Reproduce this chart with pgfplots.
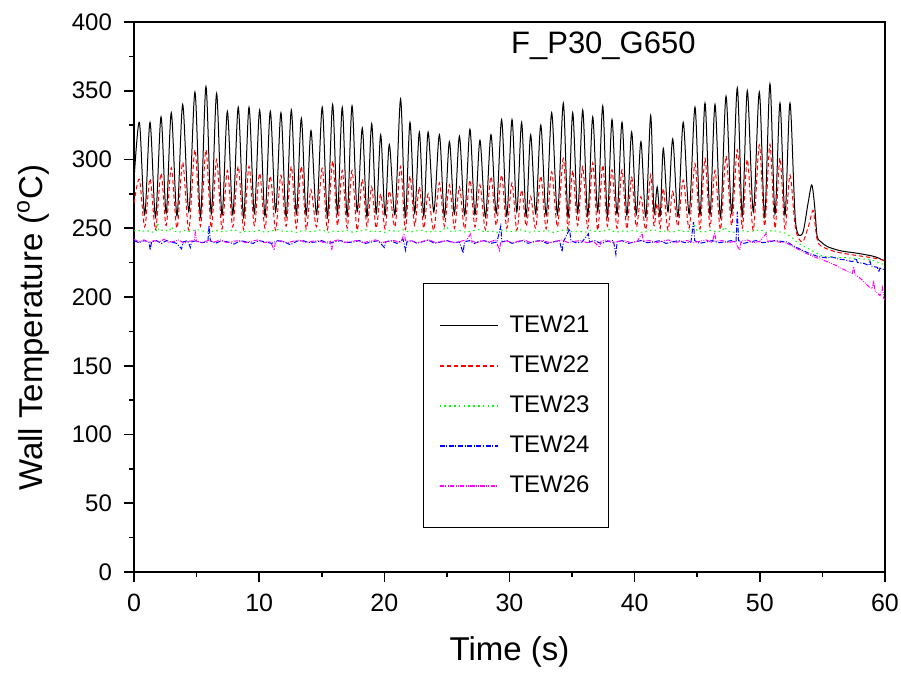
\documentclass[border=0pt]{standalone}
\usepackage{fontspec}
\setmainfont{Liberation Sans}
\usepackage{pgfplots}
\pgfplotsset{compat=1.18}
\definecolor{cgreen}{RGB}{0,255,0}
\definecolor{cmag}{RGB}{255,0,255}
\begin{document}
\begin{tikzpicture}
\begin{axis}[
  scale only axis, width=375.5pt, height=275pt,
  xmin=0, xmax=60, ymin=0, ymax=400,
  xtick={0,10,...,60}, ytick={0,50,...,400},
  minor x tick num=1, minor y tick num=1,
  tick align=outside, xtick pos=left, ytick pos=left,
  major tick length=5pt, minor tick length=2.5pt,
  axis line style={line width=0.8pt},
  every tick/.style={line width=0.8pt, black},
  /pgf/number format/assume math mode=true,
  yticklabel style={font=\fontsize{12}{12}\selectfont, xshift=-2.5pt},
  xticklabel style={font=\fontsize{12.5}{12.5}\selectfont, yshift=-2.5pt},
  xlabel={Time (s)}, ylabel={Wall Temperature (\textsuperscript{o}C)},
  label style={font=\fontsize{16.5}{18}\selectfont},
  xlabel style={at={(axis description cs:0.5,-0.1455)}, anchor=center},
  ylabel style={at={(axis description cs:-0.1345,0.444)}, anchor=center},
  legend style={at={(0.3848,0.5255)}, anchor=north west, draw=black, line width=0.75pt,
    font=\fontsize{12}{12}\selectfont, inner xsep=7.5pt, inner ysep=14pt, row sep=6.15pt,
    cells={anchor=west}},
  legend image code/.code={\draw[#1, line width=0.9pt] (0.5pt,0pt) -- (29.5pt,0pt);},
]
\addplot[draw=black, line width=0.5pt, smooth] coordinates {
(0,285) (0.43,327) (0.855,260) (1.28,327) (1.72,258) (2.16,331) (2.57,261) (2.98,334) (3.435,259) (3.89,340) (4.38,262) (4.87,349) (5.31,258.5) (5.75,353) (6.175,260.5) (6.60,348) (7.03,259.5) (7.46,335) (7.895,260) (8.33,338) (8.76,258) (9.19,338) (9.615,261) (10.04,336) (10.465,259) (10.89,335) (11.315,262) (11.74,334) (12.155,258.5) (12.57,336) (12.97,260.5) (13.37,330) (13.755,259.5) (14.14,321) (14.59,260) (15.04,338) (15.455,258) (15.87,340) (16.255,261) (16.64,338) (17.03,259) (17.42,339) (17.83,262) (18.24,323) (18.615,258.5) (18.99,326) (19.35,260.5) (19.71,318) (20.055,259.5) (20.40,311) (20.85,260) (21.30,344) (21.675,258) (22.05,327) (22.425,261) (22.80,320) (23.15,259) (23.50,320) (23.95,262) (24.40,318) (24.80,258.5) (25.20,313) (25.60,260.5) (26.00,317) (26.42,259.5) (26.84,322) (27.24,260) (27.64,314) (28.08,258) (28.52,318) (28.945,261) (29.37,329) (29.785,259) (30.20,329) (30.585,262) (30.97,327) (31.33,258.5) (31.69,318) (32.095,260.5) (32.50,325) (32.935,259.5) (33.37,334) (33.835,260) (34.30,341) (34.675,258) (35.05,334) (35.45,261) (35.85,336) (36.25,259) (36.65,331) (37.05,262) (37.45,339) (37.82,258.5) (38.19,329) (38.59,260.5) (38.99,327) (39.375,259.5) (39.76,320) (40.13,260) (40.50,313) (40.89,258) (41.28,332) (41.54,262) (41.80,280) (42.045,259) (42.29,308) (42.665,262) (43.04,315) (43.46,258.5) (43.88,327) (44.35,260.5) (44.82,338) (45.22,259.5) (45.62,341) (46.02,260) (46.42,340) (46.86,258) (47.30,346) (47.75,261) (48.20,352) (48.60,259) (49.00,350) (49.48,262) (49.96,349) (50.385,258.5) (50.81,355) (51.21,260.5) (51.61,341) (52.01,259.5) (52.41,341) (52.85,255) (53.40,246) (53.85,268) (54.15,281.5) (54.38,266) (54.55,246) (54.7,241.5) (54.9,240) (55.4,236.6) (56.5,233.5) (57.8,231.8) (59.2,229.3) (60,226)
};
\addlegendentry{\hspace{3.5pt}TEW21}
\addplot[draw=red, line width=0.5pt, smooth, dash pattern=on 2.2pt off 1.4pt] coordinates {
(0,268) (0.43,285.6) (0.855,251) (1.28,286) (1.72,249) (2.16,290) (2.57,252) (2.98,294) (3.435,250) (3.89,298) (4.38,248.5) (4.87,307) (5.31,251.5) (5.75,307) (6.175,250) (6.60,300) (7.03,249.5) (7.46,292) (7.895,251) (8.33,295) (8.76,249) (9.19,295) (9.615,252) (10.04,290) (10.465,250) (10.89,288) (11.315,248.5) (11.74,288.5) (12.155,251.5) (12.57,295) (12.97,250) (13.37,295) (13.755,249.5) (14.14,278) (14.59,251) (15.04,293.6) (15.455,249) (15.87,299) (16.255,252) (16.64,292) (17.03,250) (17.42,292) (17.83,248.5) (18.24,285.6) (18.615,251.5) (18.99,280) (19.35,250) (19.71,275) (20.055,249.5) (20.40,277) (20.85,251) (21.30,295) (21.675,249) (22.05,288) (22.425,252) (22.80,280) (23.15,250) (23.50,275) (23.95,248.5) (24.40,283) (24.80,251.5) (25.20,281.5) (25.60,250) (26.00,280) (26.42,249.5) (26.84,285) (27.24,251) (27.64,281.5) (28.08,249) (28.52,287.5) (28.945,252) (29.37,288.7) (29.785,250) (30.20,283) (30.585,248.5) (30.97,277.8) (31.33,251.5) (31.69,273) (32.095,250) (32.50,288) (32.935,249.5) (33.37,291) (33.835,251) (34.30,300.8) (34.675,249) (35.05,292) (35.45,252) (35.85,294.8) (36.25,250) (36.65,297.7) (37.05,248.5) (37.45,296) (37.82,251.5) (38.19,292.5) (38.59,250) (38.99,292.5) (39.375,249.5) (39.76,287) (40.13,251) (40.50,273) (40.89,249) (41.28,288.7) (41.54,252) (41.80,268) (42.045,250) (42.29,279) (42.665,248.5) (43.04,276.6) (43.46,251.5) (43.88,285) (44.35,250) (44.82,297) (45.22,249.5) (45.62,300.8) (46.02,251) (46.42,292) (46.86,249) (47.30,302.5) (47.75,252) (48.20,307) (48.60,250) (49.00,300) (49.48,248.5) (49.96,310.5) (50.385,251.5) (50.81,311) (51.21,250) (51.61,301) (52.01,249.5) (52.41,288.7) (52.85,250) (53.40,240) (53.9,252) (54.25,263) (54.45,250) (54.6,241) (54.9,237) (56,233) (57.5,230.5) (59,228.5) (60,226.5)
};
\addlegendentry{\hspace{3.5pt}TEW22}
\addplot[draw=cgreen, line width=0.5pt, dash pattern=on 0.8pt off 1.6pt] coordinates {
(0,248) (0.3,249) (0.6,247.5) (1.0,248.5) (1.4,247) (1.8,248) (1.9,254) (2.0,248) (2.4,249) (2.8,247.5) (3.0,251) (3.2,248) (3.6,247) (4.0,248.5) (4.5,247.5) (5.0,249) (5.5,248) (6.0,247) (6.5,248.5) (7.0,247.5) (7.5,248) (8.0,249) (8.5,247) (9.0,248) (9.5,247.5) (10.0,248.5) (10.5,247) (11.0,248) (11.5,249) (12.0,247.5) (12.5,248) (13.0,247) (13.5,248.5) (14.0,247.5) (14.5,248) (15.0,249) (15.5,247) (16.0,248) (16.5,247.5) (17.0,248.5) (17.5,247) (18.0,248) (18.5,249) (19.0,247.5) (19.5,248) (20.0,247) (20.5,248.5) (21.0,247.5) (21.5,249) (22.0,247) (22.5,248) (23.0,248.5) (23.5,247) (24.0,248) (24.5,247.5) (25.0,251) (25.2,248) (25.5,247.5) (26.0,248.5) (26.5,247) (27.0,248) (27.5,249) (28.0,247.5) (28.5,248) (29.0,247) (29.5,248.5) (30.0,247.5) (30.5,248) (31.0,249) (31.5,247) (32.0,248) (32.5,247.5) (33.0,248.5) (33.5,247) (34.0,248) (34.5,249) (35.0,247.5) (35.5,248) (36.0,247) (36.5,248.5) (37.0,247.5) (37.5,248) (38.0,249) (38.5,247) (39.0,248) (39.5,247.5) (40.0,248.5) (40.5,247) (41.0,248) (41.5,249) (42.0,247.5) (42.5,248) (43.0,247) (43.5,248.5) (44.0,247.5) (44.5,248) (44.8,252) (45.0,248) (45.5,247) (46.0,248.5) (46.5,247.5) (47.0,248) (47.2,251) (47.4,248) (48.0,247) (48.5,248.5) (49.0,247.5) (49.5,248) (50.0,249) (50.5,247) (51.0,248.5) (51.5,247.5) (52.1,246.3) (52.6,243) (53.1,239) (53.6,236.5) (54.1,234) (54.6,231.5) (55.1,229.3) (55.6,229.5) (56.2,228.5) (56.8,228.8) (57.4,228) (57.8,228) (58.4,227.5) (59.0,227) (59.5,225) (60,223.3)
};
\addlegendentry{\hspace{3.5pt}TEW23}
\addplot[draw=blue, line width=0.5pt, dash pattern=on 2.5pt off 0.8pt on 0.5pt off 0.8pt] coordinates {
(0,241) (0.4,239.5) (0.8,241) (1.2,240) (1.3,234) (1.4,240) (1.8,241) (2.2,239) (2.6,241) (3.0,240) (3.4,239) (3.8,235) (3.9,240) (4.3,241) (4.5,236) (4.6,240) (5.0,241) (5.4,239.5) (5.9,240) (6.0,252) (6.1,241) (6.5,239) (7.0,241) (7.5,240) (8.0,238.5) (8.5,241) (9.0,240) (9.5,239) (10.0,241) (10.5,240) (11.0,239) (11.5,241) (12.0,240) (12.5,238) (13.0,240.5) (13.5,241) (14.0,239.5) (14.5,240) (15.0,241) (15.5,239) (16.0,240) (16.5,241) (17.0,239.5) (17.5,240) (18.0,241) (18.5,239) (19.0,240) (19.5,241) (20.0,236) (20.1,240) (20.5,241) (21.0,239) (21.5,242) (21.7,234) (21.8,240) (22.2,241) (22.6,239) (23.0,240) (23.5,241.5) (24.0,239) (24.5,240) (25.0,241) (25.5,239.5) (26.0,240) (26.3,232) (26.4,240) (26.8,241) (27.2,239) (27.6,240.5) (28.0,241) (28.5,239) (29.0,240) (29.3,251.5) (29.4,240) (29.8,241) (30.2,239) (30.6,240) (31.0,241) (31.5,239) (32.0,240.5) (32.5,241) (33.0,239) (33.5,240) (34.0,241) (34.2,233) (34.3,240) (34.8,249.5) (34.9,241) (35.3,239.5) (35.8,240) (36.3,246) (36.4,240) (36.8,241) (37.3,239) (37.8,240.5) (38.3,241) (38.5,231) (38.6,240) (39.0,241) (39.5,239) (40.0,240) (40.5,241) (41.0,239.5) (41.5,240) (42.0,241) (42.5,239) (43.0,240) (43.5,241) (44.0,239.5) (44.5,240) (44.7,254.5) (44.8,241) (45.2,239) (45.7,240) (46.2,241) (46.7,239.5) (47.2,240) (47.7,241) (48.1,240) (48.2,262) (48.3,241) (48.7,239) (49.2,240) (49.7,241) (50.2,239.5) (50.7,240) (51.2,241) (51.7,240.5) (52.2,240) (52.7,237) (53.4,234) (54.0,231.5) (54.7,229.3) (55.3,228.5) (55.8,229) (56.3,227.5) (56.8,227) (57.4,225.7) (57.7,228) (57.8,225) (58.3,224.5) (58.7,223) (58.8,226) (58.9,222.5) (59.4,221.5) (59.5,218) (59.6,221) (60,219.6)
};
\addlegendentry{\hspace{3.5pt}TEW24}
\addplot[draw=cmag, line width=0.5pt, dash pattern=on 2.2pt off 0.7pt on 0.4pt off 0.7pt on 0.4pt off 0.7pt] coordinates {
(0,242) (0.4,240) (0.8,241.5) (1.2,239.5) (1.6,241) (2.0,240) (2.4,242) (2.8,239.5) (3.2,240.5) (3.6,241.5) (4.0,239) (4.4,240.5) (4.8,241) (4.9,247) (5.0,240.5) (5.4,239.5) (5.9,241) (6.4,240) (6.9,241.5) (7.4,239.5) (7.9,240.5) (8.4,241) (8.9,239.5) (9.4,240.5) (9.9,241.5) (10.4,239.5) (10.9,240.5) (11.2,234) (11.3,240) (11.7,241) (12.2,239.5) (12.7,240.5) (13.2,241.5) (13.7,239.5) (14.2,240.5) (14.7,241) (15.2,239.5) (15.7,240.5) (15.8,234) (15.9,240.5) (16.3,241.5) (16.8,239.5) (17.3,240.5) (17.8,241) (18.3,239.5) (18.8,240.5) (19.3,241.5) (19.8,239.5) (20.3,240.5) (20.8,241) (21.3,239.5) (21.6,246) (21.7,240.5) (22.1,241) (22.6,239.5) (23.1,240.5) (23.6,241.5) (24.1,239.5) (24.6,240.5) (25.1,241) (25.6,239.5) (26.1,240.5) (26.6,241.5) (26.9,246) (27.0,240.5) (27.4,239.5) (27.9,241) (28.4,240) (28.9,241.5) (29.2,234) (29.3,240) (29.7,241) (30.2,239.5) (30.7,240.5) (31.2,241.5) (31.7,239.5) (32.2,240.5) (32.7,241) (33.2,239.5) (33.7,240.5) (34.2,241.5) (34.7,239.5) (35.2,240.5) (35.7,241) (36.2,239.5) (36.7,240.5) (37.2,236) (37.3,240.5) (37.7,241.5) (38.2,239.5) (38.7,240.5) (39.2,241) (39.7,239.5) (40.2,240.5) (40.6,246) (40.7,240.5) (41.2,241) (41.7,239.5) (42.2,240.5) (42.7,241.5) (43.2,239.5) (43.7,240.5) (44.2,241) (44.7,239.5) (45.2,240.5) (45.7,241.5) (46.2,239.5) (46.4,247) (46.5,240.5) (47.0,241) (47.5,239.5) (48.0,240.5) (48.4,234) (48.5,240.5) (49.0,241.5) (49.5,239.5) (50.0,240.5) (50.5,246) (50.6,240.5) (51.0,241) (51.5,240) (52.2,239) (52.8,236) (53.4,233) (54.0,230.5) (54.7,228) (55.3,226) (56.0,223.3) (56.6,220.5) (57.4,217.2) (57.5,222) (57.6,216.5) (58.1,213) (58.7,207.5) (59.0,206) (59.1,212) (59.2,204.5) (59.6,201) (59.8,207) (59.9,199) (60,197.8)
};
\addlegendentry{\hspace{3.5pt}TEW26}
\node[anchor=west, font=\fontsize{15.5}{15.5}\selectfont] at (rel axis cs:0.4928,0.9567) {F\_P30\_G650};
\end{axis}
\pgfresetboundingbox
\path[use as bounding box] (-67pt,-50.5pt) rectangle (383.5pt,286pt);
\end{tikzpicture}
\end{document}
